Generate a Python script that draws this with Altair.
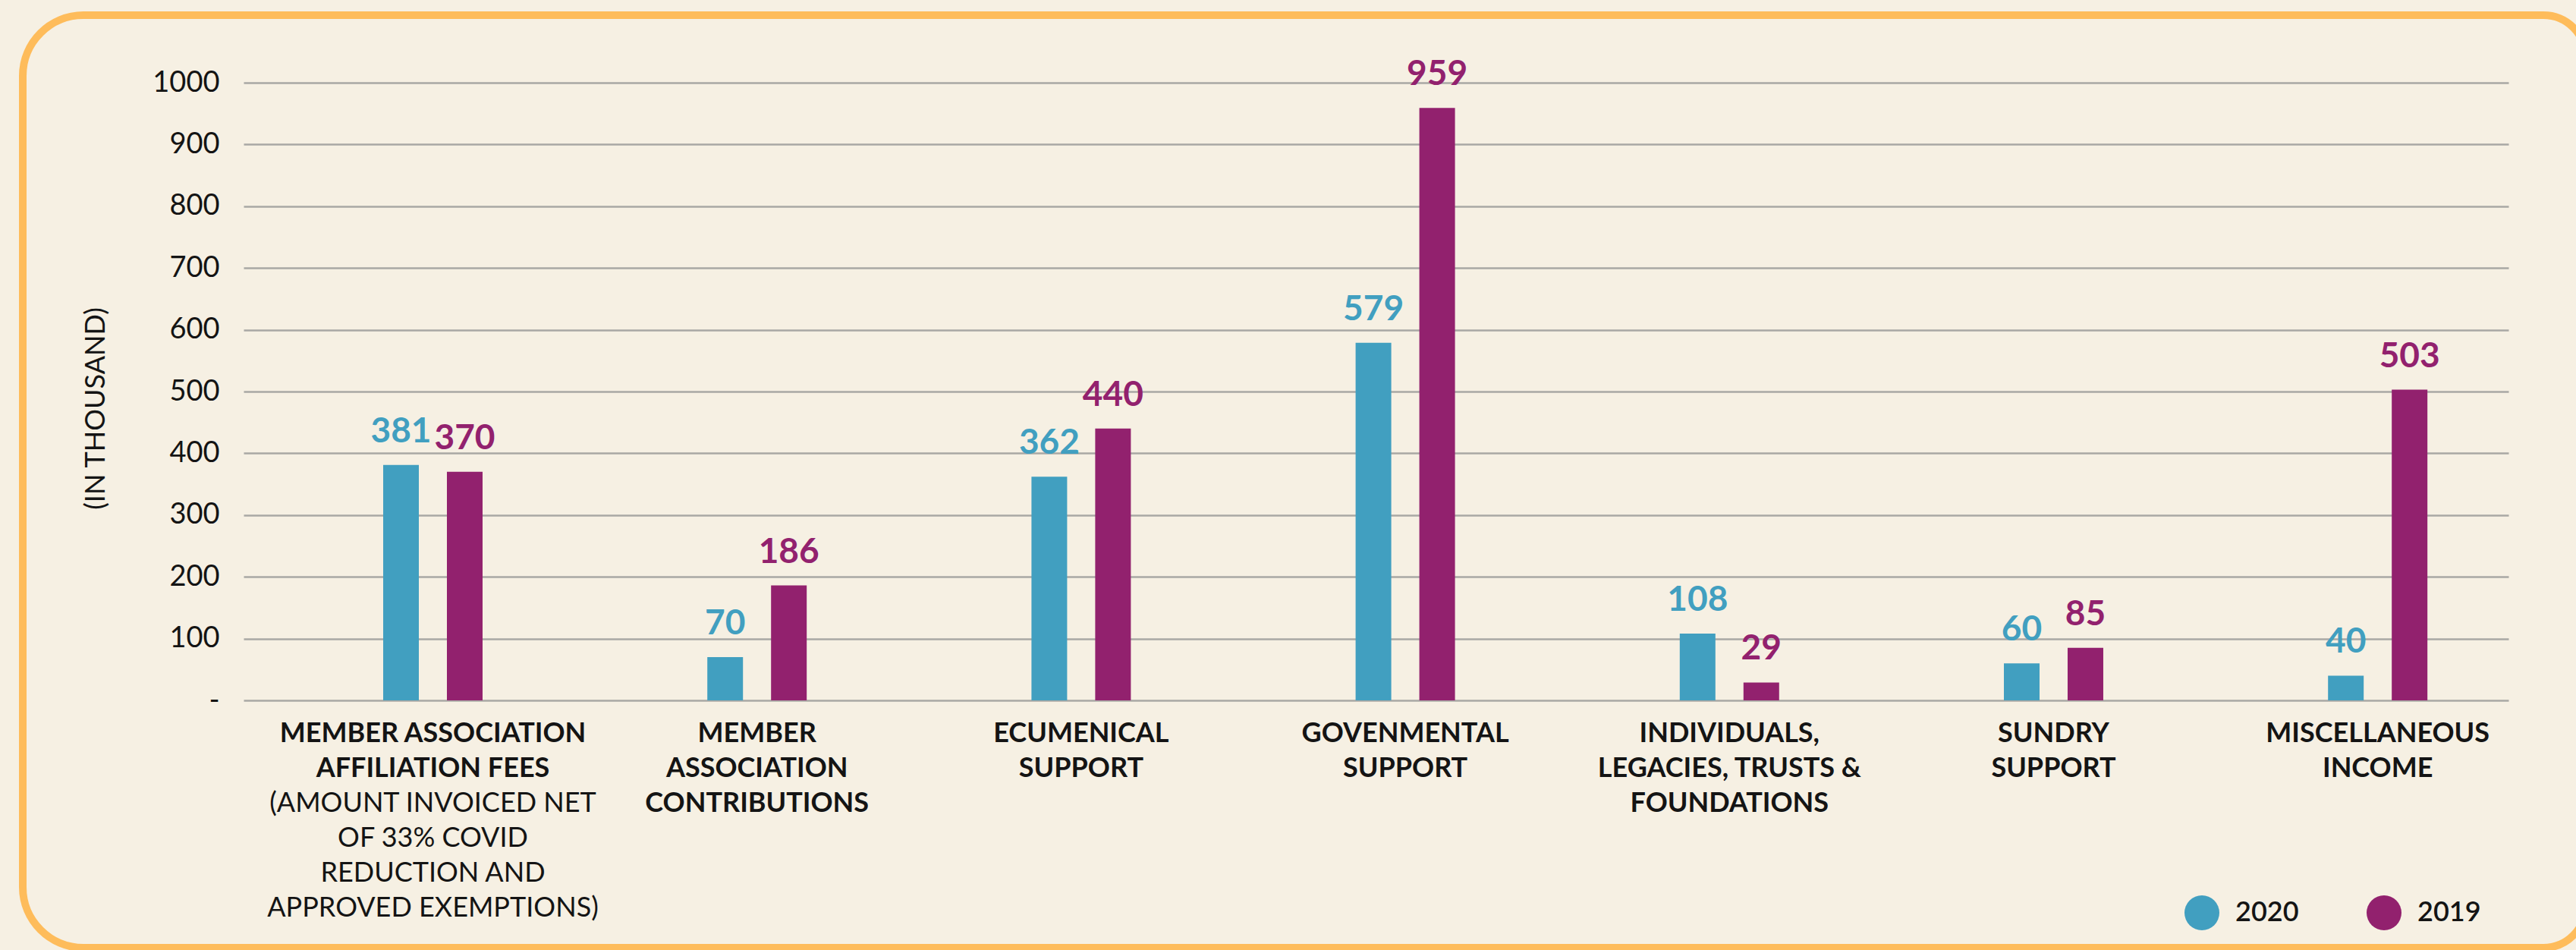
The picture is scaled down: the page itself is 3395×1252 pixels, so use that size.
import altair as alt
import pandas as pd

# ---------------- data ----------------
categories = [
    "MEMBER ASSOCIATION\nAFFILIATION FEES",
    "MEMBER\nASSOCIATION\nCONTRIBUTIONS",
    "ECUMENICAL\nSUPPORT",
    "GOVENMENTAL\nSUPPORT",
    "INDIVIDUALS,\nLEGACIES, TRUSTS &\nFOUNDATIONS",
    "SUNDRY\nSUPPORT",
    "MISCELLANEOUS\nINCOME",
]
notes = [
    "(AMOUNT INVOICED NET\nOF 33% COVID\nREDUCTION AND\nAPPROVED EXEMPTIONS)",
    "", "", "", "", "", "",
]
years = ["2020", "2019"]
values_2020 = [381, 70, 362, 579, 108, 60, 40]
values_2019 = [370, 186, 440, 959, 29, 85, 503]
y_ticks = [0, 100, 200, 300, 400, 500, 600, 700, 800, 900, 1000]
y_title = "(IN THOUSAND)"

# ---------------- style ----------------
BG = "#F6F0E3"
BORDER = "#FEBC5B"
BLUE = "#419FC0"
PURPLE = "#92216E"
GRID = "#A9A8A4"
INK = "#141414"
FONT = "Lato"

W, H = 2985, 814
PAD = {"left": 321, "top": 109, "right": 89, "bottom": 329}
LABEL_Y = 841
LINE_H = 46

rows = []
for i, c in enumerate(categories):
    rows.append({"category": c, "year": years[0], "value": values_2020[i]})
    rows.append({"category": c, "year": years[1], "value": values_2019[i]})
bars_df = pd.DataFrame(rows)
labels_df = pd.DataFrame({"category": categories, "note": notes})
frame_df = pd.DataFrame({"k": [0]})

x_scale = alt.Scale(domain=categories, paddingInner=0.6934, paddingOuter=0.3404,
                    align=0.6327, round=False)
xo_scale = alt.Scale(domain=years, paddingInner=0.4405, paddingOuter=0)
y_scale = alt.Scale(domain=[0, 1000], nice=False, zero=True)

y_axis = alt.Axis(
    values=y_ticks, format="d",
    labelExpr="datum.value == 0 ? '-' : datum.label",
    grid=True, gridColor=GRID, gridWidth=2.5,
    domain=False, ticks=False, labelPadding=32,
    labelFont=FONT, labelFontSize=38, labelColor=INK,
    title=y_title, titleFont=FONT, titleFontSize=36, titleFontWeight=400,
    titleColor=INK, titleX=-195, titleY=429, titleAngle=270,
    titleAlign="center", titleBaseline="middle",
)

frame = alt.Chart(frame_df).mark_rect(
    filled=False, stroke=BORDER, strokeWidth=10,
    cornerRadiusTopLeft=80, cornerRadiusBottomLeft=80,
    cornerRadiusTopRight=56, cornerRadiusBottomRight=56,
).encode(
    x=alt.value(-291), x2=alt.value(3087),
    y=alt.value(-89), y2=alt.value(1140),
)

bars = alt.Chart(bars_df).mark_bar().encode(
    x=alt.X("category:N", scale=x_scale, axis=None, sort=categories),
    xOffset=alt.XOffset("year:N", scale=xo_scale, sort=years),
    y=alt.Y("value:Q", scale=y_scale, axis=y_axis),
    color=alt.Color("year:N", scale=alt.Scale(domain=years, range=[BLUE, PURPLE]),
                    legend=alt.Legend(
                        title=None, orient="none", legendX=2558, legendY=1071,
                        direction="horizontal", symbolType="circle",
                        symbolSize=2116, symbolStrokeWidth=0, symbolOpacity=1,
                        labelFont=FONT, labelFontSize=36, labelFontWeight=600,
                        labelColor=INK, labelOffset=21, columnPadding=89,
                        padding=0)),
)

value_labels = alt.Chart(bars_df).mark_text(
    baseline="alphabetic", align="center", dy=-30,
    font=FONT, fontSize=46, fontWeight=700
).encode(
    x=alt.X("category:N", scale=x_scale, axis=None, sort=categories),
    xOffset=alt.XOffset("year:N", scale=xo_scale, sort=years),
    y=alt.Y("value:Q", scale=y_scale, axis=y_axis),
    text=alt.Text("value:Q"),
    fill=alt.Fill("year:N", scale=alt.Scale(domain=years, range=[BLUE, PURPLE]),
                  legend=None),
)

name_labels = alt.Chart(labels_df).mark_text(
    baseline="top", align="center", lineBreak="\n", lineHeight=LINE_H,
    font=FONT, fontSize=36, fontWeight=700, color=INK
).encode(
    x=alt.X("category:N", scale=x_scale, axis=None, sort=categories),
    y=alt.value(LABEL_Y),
    text="category:N",
)

note_labels = alt.Chart(labels_df).transform_filter(
    "datum.note != ''"
).mark_text(
    baseline="top", align="center", lineBreak="\n", lineHeight=LINE_H,
    font=FONT, fontSize=36, fontWeight=400, color=INK
).encode(
    x=alt.X("category:N", scale=x_scale, axis=None, sort=categories),
    y=alt.value(LABEL_Y + 2 * LINE_H),
    text="note:N",
)

chart = alt.layer(frame, bars, value_labels, name_labels, note_labels).properties(
    width=W, height=H, background=BG,
    autosize=alt.AutoSizeParams(type="none"),
    padding=PAD,
).configure_view(strokeWidth=0)

chart.save("out.html", embed_options={"renderer": "svg", "actions": False})
